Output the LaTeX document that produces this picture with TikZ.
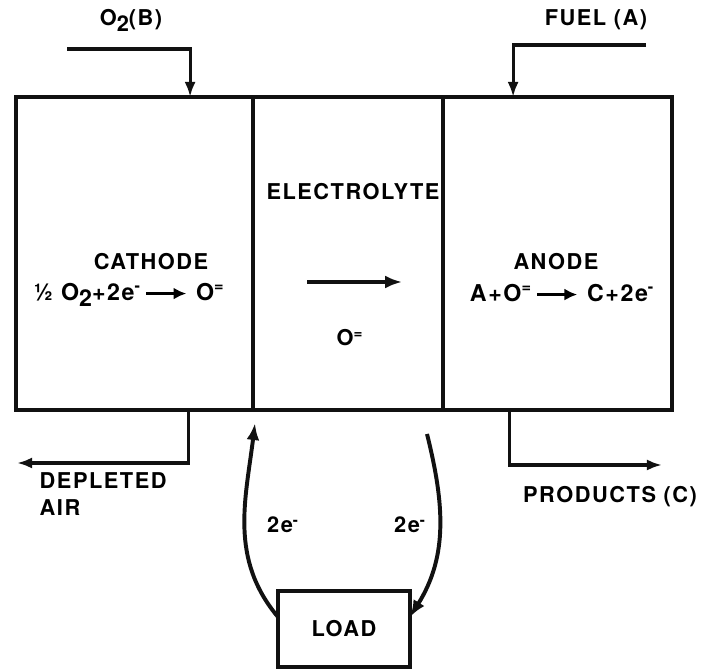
\documentclass[tikz,border=0pt]{standalone}
\usepackage{fontspec}
\setmainfont{TeX Gyre Heros}
\newfontfamily\labelfont[LetterSpace=7]{TeX Gyre Heros}
\usetikzlibrary{arrows.meta, positioning}
\definecolor{darkline}{HTML}{111111}
\tikzset{
  cell/.style={rectangle, draw=darkline, line width=3pt, outer sep=0pt, inner sep=0pt, minimum height=7.825cm},
  loadbox/.style={rectangle, draw=darkline, line width=3pt, outer sep=0pt, minimum width=3.3cm, minimum height=1.9cm, font=\labelfont\bfseries\fontsize{15.5}{18}\selectfont},
  flow/.style={-{Latex[length=4.2mm, width=3.2mm]}, line width=2.8pt, draw=darkline},
  pipe/.style={-{Latex[length=3.8mm, width=2.8mm]}, line width=2.2pt, draw=darkline},
  cell-title/.style={font=\labelfont\bfseries\fontsize{15.5}{18}\selectfont, inner sep=1pt},
  cell-eq/.style={font=\labelfont\bfseries\fontsize{16.5}{19}\selectfont, inner sep=1pt},
  note/.style={font=\labelfont\bfseries\fontsize{15.5}{19}\selectfont, align=left, inner sep=1pt}
}
\newcommand{\rxarrow}{\tikz[baseline=-0.55ex]\draw[-{Latex[length=3.2mm, width=3mm]}, line width=2.4pt] (0,0) -- (1.0,0);}

\begin{document}
\begin{tikzpicture}
\useasboundingbox (0,0) rectangle (17.75,16.775);

% the cell
\node[cell, minimum width=5.925cm] (cathode) at (3.3625, 10.4375) {};
\node[cell, minimum width=4.75cm, right=0pt of cathode] (electrolyte) {};
\node[cell, minimum width=5.725cm, right=0pt of electrolyte] (anode) {};

\node[cell-title] (cathode-name) at (3.775, 10.225) {CATHODE};
\node[cell-eq] (cathode-eq) at (3.225, 9.4) {\textonehalf\ O\raisebox{-0.5ex}{2}+2e\textsuperscript{-}\,\rxarrow\ O\textsuperscript{=}};
\node[cell-title] (electrolyte-name) at (8.825, 11.975) {ELECTROLYTE};
\node[cell-title] (ion) at (8.75, 8.325) {O\textsuperscript{=}};
\node[cell-title] (anode-name) at (13.9, 10.225) {ANODE};
\node[cell-eq] (anode-eq) at (14.05, 9.45) {A+O\textsuperscript{=}\,\rxarrow\ C+2e\textsuperscript{-}};

\coordinate (ion-from) at (7.675, 9.725);
\coordinate (ion-to) at (10.05, 9.725);
\draw[flow, line width=2.2pt] (ion-from) -- (ion-to);

% feeds and exhausts
\node[note] (o2-name) at (3.275, 16.275) {O\raisebox{-0.5ex}{2}(B)};
\node[note] (fuel-name) at (14.9, 16.275) {FUEL (A)};
\coordinate (o2-in) at (1.675, 15.55);
\coordinate (fuel-in) at (16.15, 15.65);
\draw[pipe] (o2-in) -| ([xshift=1.39cm]cathode.north);
\draw[pipe] (fuel-in) -| ([xshift=-1.11cm]anode.north);

\node[note, anchor=west] (air-name) at (0.95, 4.425) {DEPLETED\\AIR};
\node[note] (products-name) at (15.25, 4.35) {PRODUCTS (C)};
\coordinate (air-out) at (0.425, 5.2);
\coordinate (prod-out) at (16.55, 5.15);
\draw[pipe] ([xshift=1.34cm]cathode.south) |- (air-out);
\draw[pipe] ([xshift=-1.21cm]anode.south) |- (prod-out);

% external circuit
\node[loadbox] (load) at (8.6, 1.05) {LOAD};
\coordinate (e-in) at ([shift={(0.05,-0.33)}]electrolyte.south west);
\coordinate (e-out) at (10.675, 5.925);
\draw[flow] ([yshift=0.3cm]load.west) to[out=130, in=-97] (e-in);
\draw[flow] (e-out) to[out=-76, in=58] ([yshift=0.3cm]load.east);
\node[note] (e-left) at (7.075, 3.65) {2e\textsuperscript{-}};
\node[note] (e-right) at (10.25, 3.65) {2e\textsuperscript{-}};

\end{tikzpicture}
\end{document}
